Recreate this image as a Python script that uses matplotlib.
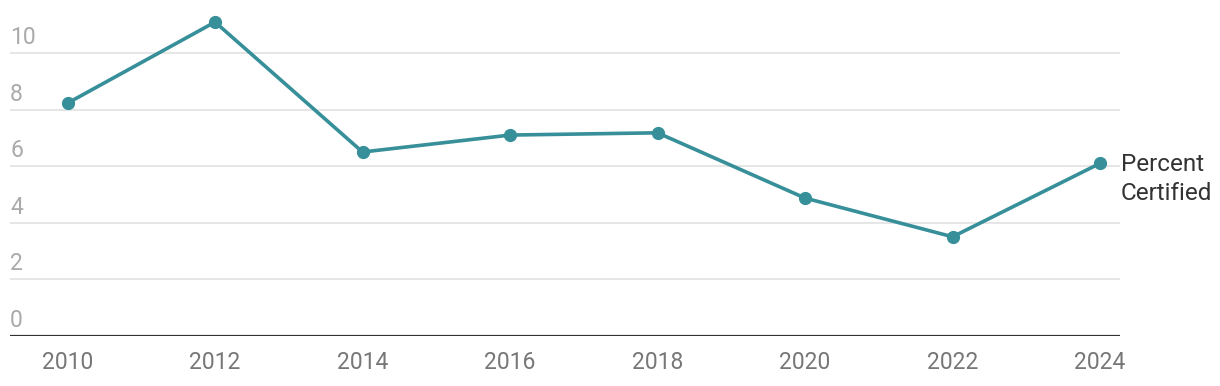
import matplotlib
matplotlib.use('Agg')
import matplotlib.pyplot as plt
from matplotlib.transforms import offset_copy

# --- Data ---
years = [2010, 2012, 2014, 2016, 2018, 2020, 2022, 2024]
percent_certified = [8.23, 11.1, 6.5, 7.1, 7.18, 4.87, 3.5, 6.1]
y_ticks = [0, 2, 4, 6, 8, 10]
series_label = "Percent\nCertified"

LINE_COLOR = '#368f99'

plt.rcParams['font.family'] = ['Roboto', 'DejaVu Sans']

fig = plt.figure(figsize=(12.2, 3.86), dpi=100)
ax = fig.add_axes([10 / 1220, 50.3 / 386, 1110 / 1220, 335.7 / 386])

# gridlines (drawn by hand so labels can sit above them)
for t in y_ticks[1:]:
    ax.axhline(t, color='#e6e6e6', lw=1.4, zorder=1)
ax.axhline(0, color='#333333', lw=1.6, zorder=2)

ax.plot(years, percent_certified, color=LINE_COLOR, lw=2.6, marker='o',
        markersize=8.5, zorder=3, clip_on=False)

ax.set_xlim(2009.22, 2024.27)
ax.set_ylim(0, 11.88)

# y labels: left aligned, just above each gridline
lab_trans = offset_copy(ax.get_yaxis_transform(), fig=fig, x=0, y=9, units='dots')
for t in y_ticks:
    ax.text(0, t, str(t), transform=lab_trans, ha='left', va='baseline',
            fontsize=16.5, color='#aaaaaa')

ax.set_yticks([])
ax.set_xticks(years)
ax.set_xticklabels([str(y) for y in years], fontsize=16.5, color='#777777')
ax.tick_params(axis='x', length=0, pad=11)

for side in ['top', 'right', 'left', 'bottom']:
    ax.spines[side].set_visible(False)

# series label at the end of the line
ax.annotate(series_label, xy=(years[-1], percent_certified[-1]),
            xytext=(21, 10), textcoords='offset pixels', ha='left', va='top',
            fontsize=17.5, color='#333333', linespacing=1.32, annotation_clip=False)

fig.savefig('out.png', dpi=100)
